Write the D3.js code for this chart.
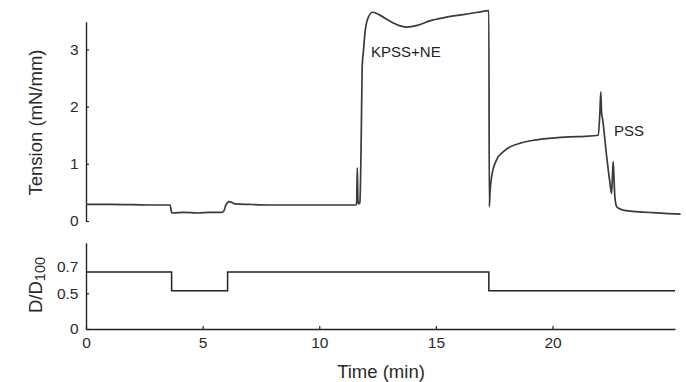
<!DOCTYPE html>
<html><head><meta charset="utf-8">
<script src="https://cdn.jsdelivr.net/npm/d3@7"></script>
<style>
body{margin:0;background:#fff;}
svg{display:block;font-family:"Liberation Sans",Arial,sans-serif;}
</style></head>
<body>
<svg id="c" width="686" height="382"></svg>
<script>
// Tension trace (time in min, tension in mN/mm)
const tensionTime = [0,1,2,3,3.6,3.67,3.7,4.2,4.8,5.3,5.8,5.9,6.0,6.14,6.4,7,8,9,10,11,11.55,11.6,11.63,11.66,11.7,11.74,11.8,11.84,11.9,11.96,12.1,12.29,12.6,13.0,13.4,13.74,14.2,14.74,15.4,16.17,16.8,17.27,17.29,17.32,17.39,17.6,17.88,18.6,19.32,20.0,20.74,21.4,21.96,22.03,22.07,22.1,22.14,22.32,22.45,22.53,22.57,22.6,22.64,22.67,22.75,22.9,23.17,23.7,24.31,25.0,25.49];
const tensionVals = [0.29,0.29,0.285,0.28,0.28,0.15,0.14,0.15,0.14,0.15,0.15,0.17,0.28,0.34,0.3,0.29,0.28,0.28,0.28,0.28,0.28,0.3,0.93,0.35,0.3,0.32,1.5,2.7,3.0,3.29,3.56,3.65,3.6,3.5,3.42,3.39,3.42,3.5,3.56,3.61,3.65,3.68,0.25,0.5,0.78,1.07,1.21,1.36,1.42,1.45,1.47,1.48,1.5,1.9,2.26,1.9,1.8,1.13,0.7,0.48,0.8,1.04,0.7,0.43,0.25,0.21,0.18,0.16,0.145,0.13,0.12];
// Diameter ratio D/D100 (step)
const dTime = [0,3.67,6.07,17.27,25.25];
const dVals = [0.66,0.52,0.66,0.52,0.52];
// Tick values / labels
const xTicks = [0,5,10,15,20];
const tensionTicks = [0,1,2,3];
const dTicks = [0,0.5,0.7];
const annotations = [{text:"KPSS+NE", t:12.22, v:2.87},{text:"PSS", t:22.63, v:1.478}];

const svg = d3.select("#c");
const x = d3.scaleLinear().domain([0,25.25]).range([86,675]);
const yT = d3.scaleLinear().domain([0,3.485]).range([221,21.7]);
const yD = d3.scaleLinear().domain([0,0.5,0.7,0.88]).range([329,293.3,266.7,242.8]);

const axisColor = "#222";
function styleAxis(g){
  g.select(".domain").attr("stroke",axisColor).attr("stroke-width",1.4);
  g.selectAll(".tick line").attr("stroke",axisColor).attr("stroke-width",1.2);
  g.selectAll(".tick text").attr("fill","#2a2a2a").style("font-size","15.5px").style("font-family","'Liberation Sans',Arial,sans-serif");
}

// top y axis
const gT = svg.append("g").attr("transform","translate(86,0)")
  .call(d3.axisLeft(yT).tickValues(tensionTicks).tickFormat(d3.format("d")).tickSizeInner(-3).tickSizeOuter(0).tickPadding(7.5));
styleAxis(gT);

// bottom y axis
const gD = svg.append("g").attr("transform","translate(86,0)")
  .call(d3.axisLeft(yD).tickValues(dTicks).tickFormat(d=>d===0?"0":d3.format(".1f")(d)).tickSizeInner(-3).tickSizeOuter(0).tickPadding(7.5));
styleAxis(gD);
gD.selectAll(".tick").filter(d=>d===0.7).select("line").remove();

// x axis
const gX = svg.append("g").attr("transform","translate(0,329)")
  .call(d3.axisBottom(x).tickValues(xTicks).tickSizeInner(-3).tickSizeOuter(0).tickPadding(8));
styleAxis(gX);

// tension trace
svg.append("path")
  .datum(tensionTime.map((t,i)=>[t,tensionVals[i]]))
  .attr("fill","none").attr("stroke","#3a3a3a").attr("stroke-width",1.7)
  .attr("stroke-linejoin","round")
  .attr("d", d3.line().x(d=>x(d[0])).y(d=>yT(d[1])).curve(d3.curveMonotoneX));

// D/D100 step line
svg.append("path")
  .datum(dTime.map((t,i)=>[t,dVals[i]]))
  .attr("fill","none").attr("stroke","#222").attr("stroke-width",1.5)
  .attr("d", d3.line().x(d=>x(d[0])).y(d=>yD(d[1])).curve(d3.curveStepAfter));

// annotations
svg.selectAll("text.ann").data(annotations).enter().append("text")
  .attr("class","ann").attr("x",d=>x(d.t)).attr("y",d=>yT(d.v))
  .attr("fill","#222").style("font-size","15px").text(d=>d.text);

// axis titles
svg.append("text").attr("transform","translate(42,122.5) rotate(-90)")
  .attr("text-anchor","middle").attr("fill","#2a2a2a").style("font-size","18.5px").text("Tension (mN/mm)");
const dl = svg.append("text").attr("transform","translate(41.7,285) rotate(-90)")
  .attr("text-anchor","middle").attr("fill","#2a2a2a").style("font-size","18.5px");
dl.append("tspan").text("D/D");
dl.append("tspan").attr("dy",3).style("font-size","14.5px").text("100");
svg.append("text").attr("x",381).attr("y",378.3).attr("text-anchor","middle")
  .attr("fill","#2a2a2a").style("font-size","18.5px").text("Time (min)");
</script>
</body></html>
